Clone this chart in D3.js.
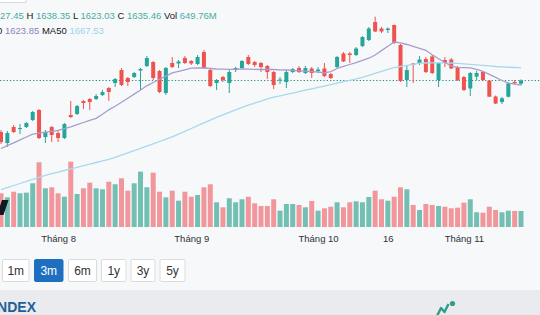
<!DOCTYPE html>
<html>
<head>
<meta charset="utf-8">
<script src="https://cdn.jsdelivr.net/npm/d3@7"></script>
<style>
  body { margin: 0; background: #f7f8fa; overflow: hidden; }
  svg { display: block; font-family: Arial, "Liberation Sans", sans-serif; }
</style>
</head>
<body>
<div id="chart"></div>
<script>
// trading days shown (21/07/2025 - 14/11/2025)
const dates = [
  "2025-07-21","2025-07-22","2025-07-23","2025-07-24","2025-07-25","2025-07-28","2025-07-29","2025-07-30","2025-07-31",
  "2025-08-01","2025-08-04","2025-08-05","2025-08-06","2025-08-07","2025-08-08","2025-08-11","2025-08-12","2025-08-13",
  "2025-08-14","2025-08-15","2025-08-18","2025-08-19","2025-08-20","2025-08-21","2025-08-22","2025-08-25","2025-08-26",
  "2025-08-27","2025-08-28","2025-08-29",
  "2025-09-03","2025-09-04","2025-09-05","2025-09-08","2025-09-09","2025-09-10","2025-09-11","2025-09-12","2025-09-15",
  "2025-09-16","2025-09-17","2025-09-18","2025-09-19","2025-09-22","2025-09-23","2025-09-24","2025-09-25","2025-09-26",
  "2025-09-29","2025-09-30",
  "2025-10-01","2025-10-02","2025-10-03","2025-10-06","2025-10-07","2025-10-08","2025-10-09","2025-10-10","2025-10-13",
  "2025-10-14","2025-10-15","2025-10-16","2025-10-17","2025-10-20","2025-10-21","2025-10-22","2025-10-23","2025-10-24",
  "2025-10-27","2025-10-28","2025-10-29","2025-10-30","2025-10-31",
  "2025-11-03","2025-11-04","2025-11-05","2025-11-06","2025-11-07","2025-11-10","2025-11-11","2025-11-12","2025-11-13",
  "2025-11-14"
];

const open = [
  1506.7,1479.2,1519.2,1514.2,1519.2,1536.7,1561.7,1494.2,1519.2,1504.2,
  1491.7,1549.2,1551.7,1584.2,1589.2,1589.2,1599.2,1616.7,1629.2,1661.7,
  1641.7,1644.2,1660.5,1671.7,1681.7,1659.2,1604.2,1679.2,1678,1691.7,
  1684.2,1676.7,1706.7,1661.7,1629.2,1644.2,1629.2,1661.7,1666.7,1694.2,
  1681.7,1679.2,1671.7,1656.7,1635.5,1631.7,1656.7,1666.7,1654.2,1665.5,
  1659.2,1665.5,1651.7,1669.2,1703,1703,1699.2,1721.7,1736.7,1781.7,
  1765.5,1761.7,1774.2,1724.2,1636.7,1678,1679.2,1689.2,1695.5,1636.7,
  1686.7,1688,1669.2,1644.2,1615.5,1645,1656.7,1635,1595.5,1581.7,
  1595,1631.7,1627.45
];
const high = [
  1511.7,1509.2,1524.2,1526.7,1531.7,1559.2,1564.2,1511.7,1521.7,1509.2,
  1529.2,1584.2,1574.2,1586.7,1591.7,1601.7,1611.7,1619.2,1641.7,1666.7,
  1644.2,1656.7,1666.7,1696.7,1684.2,1661.7,1669.2,1694.2,1686.7,1696.7,
  1686.7,1699.2,1711.7,1664.2,1639.2,1646.7,1661.7,1669.2,1686.7,1699.2,
  1684.2,1681.7,1674.2,1659.2,1644.2,1661.7,1666.7,1671.7,1671.7,1669.2,
  1669.2,1679.2,1654.2,1696.7,1706.7,1706.7,1719.2,1746.7,1769.2,1795,
  1769.2,1768,1775.5,1726.7,1674.2,1679.2,1696.7,1694.2,1699.2,1681.7,
  1694.2,1691.7,1671.7,1646.7,1656.7,1659.2,1659.2,1636.7,1598,1594.2,
  1630.5,1636.7,1638.35
];
const low = [
  1476.7,1469.2,1504.2,1501.7,1516.7,1534.2,1489.2,1479.2,1481.7,1481.7,
  1489.2,1541.7,1549.2,1564.2,1561.7,1586.7,1596.7,1584.2,1619.2,1621.7,
  1621.7,1641.7,1611.7,1669.2,1636.7,1604.2,1599.2,1666.7,1666.7,1676.7,
  1674.2,1674.2,1664.2,1619.2,1611.7,1631.7,1604.2,1656.7,1664.2,1674.2,
  1669.2,1656.7,1639.2,1614.2,1626.7,1616.7,1654.2,1654.2,1651.7,1641.7,
  1654.2,1644.2,1639.2,1666.7,1681.7,1679.2,1696.7,1719.2,1734.2,1756.7,
  1754.2,1754.2,1726.7,1631.7,1619.2,1629.2,1674.2,1654.2,1651.7,1619.2,
  1669.2,1664.2,1634.2,1609.2,1596.7,1636.7,1634.2,1594.2,1576.7,1576.7,
  1593,1625.5,1623.03
];
const close = [
  1481.7,1504.2,1506.7,1516.7,1529.2,1556.7,1491.7,1506.7,1499.2,1491.7,
  1526.7,1544.2,1571.7,1579.2,1581.7,1596.7,1606.7,1606.7,1639.2,1624.2,
  1631.7,1654.2,1664.2,1691.7,1641.7,1606.7,1666.7,1669.2,1683,1679.2,
  1678,1694.2,1666.7,1621.7,1636.7,1636.7,1656.7,1666.7,1684.2,1676.7,
  1674.2,1669.2,1656.7,1624.2,1638,1656.7,1664.2,1656.7,1666.7,1654.2,
  1663,1646.7,1641.7,1694.2,1683,1699.2,1715.5,1744.2,1765.5,1758,
  1758,1765.5,1729.2,1634.2,1661.7,1674.2,1688,1656.7,1654.2,1679.2,
  1679.2,1665.5,1636.7,1611.7,1654.2,1654.2,1636.7,1595,1578,1591,
  1628.5,1628.5,1635.46
];
// volume, million shares
const volume = [
  1368,1206,1433,1368,1393,1774,2627,1571,1612,1368,
  1230,2651,1340,1571,1799,1571,1531,1839,1734,1977,
  1474,1774,2245,1612,2205,1433,1206,1474,1068,1433,
  1230,1299,1612,1734,1003,800,1165,1003,1125,1230,
  962,853,853,1125,662,934,934,893,800,1056,
  662,759,824,1003,800,1003,1043,1003,1218,1474,
  1125,1068,1230,1612,1531,893,690,934,893,853,
  824,759,784,987,1125,597,581,824,690,597,
  662,650,649.76
];
const maShort = [
  1465.5,1472.7,1479.7,1486.9,1494.2,1501.5,1503.7,1506.2,1508.5,1511,
  1515,1519.7,1525,1530.5,1535.7,1541,1551,1562.2,1571,1581,
  1591.2,1601.5,1611.7,1622.2,1630.5,1638.7,1646.5,1654.5,1658.2,1662.2,
  1666.2,1666.7,1666.7,1665.5,1664.2,1664,1663.5,1664,1664.5,1664,
  1663.5,1663,1663,1663,1662.2,1661.7,1660.7,1659.7,1658.7,1657.7,
  1656.7,1654.7,1657.7,1665.5,1670.7,1675.5,1680,1685.7,1691.2,1699.2,
  1710.2,1721,1731.7,1729.7,1725.5,1720.7,1716,1711,1700,1689.7,
  1680.5,1671.2,1668.5,1667.7,1667,1663.2,1658.5,1650.7,1643.2,1635.5,
  1629,1626.2,1623.85
];
const ma50 = [
  1362.5,1367.7,1373,1378,1383.2,1388.5,1393.5,1398.2,1402.5,1406.5,
  1410.5,1414.7,1418.5,1422.5,1426.5,1430.5,1434.5,1438.5,1443.5,1449.2,
  1454.7,1460.2,1466,1471.7,1477.2,1483,1488.7,1494.5,1501.5,1508.5,
  1515.5,1522.5,1529.5,1536.5,1543.2,1549.5,1555.7,1562,1568.2,1573.7,
  1579,1584.2,1589.5,1593.7,1597.2,1600.7,1604.2,1607.7,1611.2,1614.7,
  1618.2,1621.7,1625.2,1629,1632.5,1636,1639.5,1643.5,1648.5,1653.5,
  1658.5,1663.2,1667.7,1670.5,1673.2,1676,1679,1679.2,1679.5,1679.6,
  1679.5,1679.2,1678.2,1677,1675.7,1674.5,1673.2,1672,1670.5,1669.4,
  1668.6,1668,1667.53
];
const tickDates = ["2025-08-01","2025-09-03","2025-10-01","2025-10-16","2025-11-03"];
const tickLabels = ["Tháng 8","Tháng 9","Tháng 10","16","Tháng 11"];
const ranges = ["1m","3m","6m","1y","3y","5y"];
const activeRange = "3m";

const W = 540, H = 315;
const upColor = "#26a69a", downColor = "#ef5350";
const upVol = "#74bfb3", downVol = "#f1979c";

const svg = d3.select("#chart").append("svg")
  .attr("width", W).attr("height", H);

svg.append("rect").attr("width", W).attr("height", H).attr("fill", "#f7f8fa");

const data = dates.map((d, i) => ({
  date: d, o: open[i], h: high[i], l: low[i], c: close[i],
  v: volume[i], ma: maShort[i], ma50: ma50[i]
}));

// scales
const x = d3.scalePoint().domain(dates).range([1, 521]);
const y = d3.scaleLinear().domain([1450, 1850]).range([154.7, -5.3]);
const vy = d3.scaleLinear().domain([0, 2800]).range([227, 158]);

// volume
svg.append("g").selectAll("rect")
  .data(data)
  .enter()
  .append("rect")
  .attr("x", d => x(d.date) - 2.5)
  .attr("y", d => vy(d.v))
  .attr("width", 5)
  .attr("height", d => vy(0) - vy(d.v))
  .attr("fill", d => d.c >= d.o ? upVol : downVol);

// last price line
svg.append("line")
  .attr("x1", 0).attr("x2", W)
  .attr("y1", y(close[close.length - 1])).attr("y2", y(close[close.length - 1]))
  .attr("stroke", "#2a8f82")
  .attr("stroke-dasharray", "1.3,2")
  .attr("stroke-width", 1);

// candles
const candle = svg.append("g").selectAll("g")
  .data(data)
  .enter()
  .append("g")
  .attr("fill", d => d.c >= d.o ? upColor : downColor)
  .attr("stroke", d => d.c >= d.o ? upColor : downColor);

candle.append("line")
  .attr("x1", d => x(d.date)).attr("x2", d => x(d.date))
  .attr("y1", d => y(d.h)).attr("y2", d => y(d.l))
  .attr("stroke-width", 1);

candle.append("rect")
  .attr("stroke", "none")
  .attr("x", d => x(d.date) - 2)
  .attr("width", 4)
  .attr("y", d => y(Math.max(d.o, d.c)))
  .attr("height", d => Math.max(1, Math.abs(y(d.o) - y(d.c))));

// moving averages
const line = key => d3.line().x(d => x(d.date)).y(d => y(d[key]));
svg.append("path").datum(data)
  .attr("d", line("ma50"))
  .attr("fill", "none").attr("stroke", "#a9d8ee").attr("stroke-width", 1.3);
svg.append("path").datum(data)
  .attr("d", line("ma"))
  .attr("fill", "none").attr("stroke", "#a99ccd").attr("stroke-width", 1.3);

// x axis
const xAxis = svg.append("g")
  .attr("transform", "translate(0,232)")
  .call(d3.axisBottom(x)
    .tickValues(tickDates)
    .tickSize(0)
    .tickFormat(d => tickLabels[tickDates.indexOf(d)]));
xAxis.select(".domain").remove();
xAxis.selectAll("text")
  .attr("font-size", "9.5px")
  .attr("font-family", "Arial, 'Liberation Sans', sans-serif")
  .attr("fill", "#2e3238");

// TradingView logo fragment
svg.append("path")
  .attr("d", "M2,200 L8.5,200 L3.5,215 L0,215 L0,206 Z")
  .attr("fill", "#131722");

// legend
const last = data[data.length - 1];
const legCol = "#47ad9f";
const l1 = svg.append("text").attr("x", -20.6).attr("y", 19)
  .attr("font-size", "9.5px").attr("fill", "#131722");
[["O ", null], [last.o.toFixed(2) + " ", legCol], ["H ", null], [last.h.toFixed(2) + " ", legCol],
 ["L ", null], [last.l.toFixed(2) + " ", legCol], ["C ", null], [last.c.toFixed(2) + " ", legCol],
 ["Vol ", null], [last.v.toFixed(2) + "M", legCol]]
  .forEach(([t, c]) => {
    const s = l1.append("tspan").text(t);
    if (c) s.attr("fill", c);
  });

const l2 = svg.append("text").attr("x", -22.5).attr("y", 33.5)
  .attr("font-size", "9.5px").attr("fill", "#131722");
l2.append("tspan").text("MA20 ");
l2.append("tspan").attr("fill", "#8f82bd").text(last.ma.toFixed(2) + " ");
l2.append("tspan").text("MA50 ");
l2.append("tspan").attr("fill", "#9fd3ea").text(last.ma50.toFixed(2));

// box fragment at top-left
svg.append("rect")
  .attr("x", -1).attr("y", -6).attr("width", 27).attr("height", 8.5)
  .attr("fill", "#ffffff").attr("stroke", "#d6d9de");

// range buttons
const btnX = [2, 34, 68, 101, 130.5, 159.5];
const btnW = [26.5, 28.5, 28, 24.5, 24, 25];
const btn = svg.append("g").selectAll("g")
  .data(ranges)
  .enter()
  .append("g");
btn.append("rect")
  .attr("x", (d, i) => btnX[i] + 0.5)
  .attr("y", 259.5)
  .attr("width", (d, i) => btnW[i])
  .attr("height", 22)
  .attr("rx", 1.5)
  .attr("fill", d => d === activeRange ? "#1f6fc0" : "#ffffff")
  .attr("stroke", d => d === activeRange ? "#1f6fc0" : "#d9dcdf");
btn.append("text")
  .attr("x", (d, i) => btnX[i] + 0.5 + btnW[i] / 2)
  .attr("y", 275)
  .attr("text-anchor", "middle")
  .attr("font-size", "12px")
  .attr("fill", d => d === activeRange ? "#ffffff" : "#333333")
  .text(d => d);

// bottom band
svg.append("rect").attr("x", 0).attr("y", 290).attr("width", W).attr("height", 25)
  .attr("fill", "#e9ebee");
svg.append("text")
  .attr("x", 36).attr("y", 312)
  .attr("text-anchor", "end")
  .attr("font-size", "14px").attr("font-weight", "bold")
  .attr("fill", "#1f5f98")
  .text("VNINDEX");
svg.append("path")
  .attr("d", "M437,316 L441,308 L444.5,312 L448.5,304")
  .attr("fill", "none").attr("stroke", "#2e9e8c").attr("stroke-width", 2.4)
  .attr("stroke-linejoin", "round");
svg.append("circle").attr("cx", 452.5).attr("cy", 303.5).attr("r", 2.6).attr("fill", "#2e9e8c");
</script>
</body>
</html>
